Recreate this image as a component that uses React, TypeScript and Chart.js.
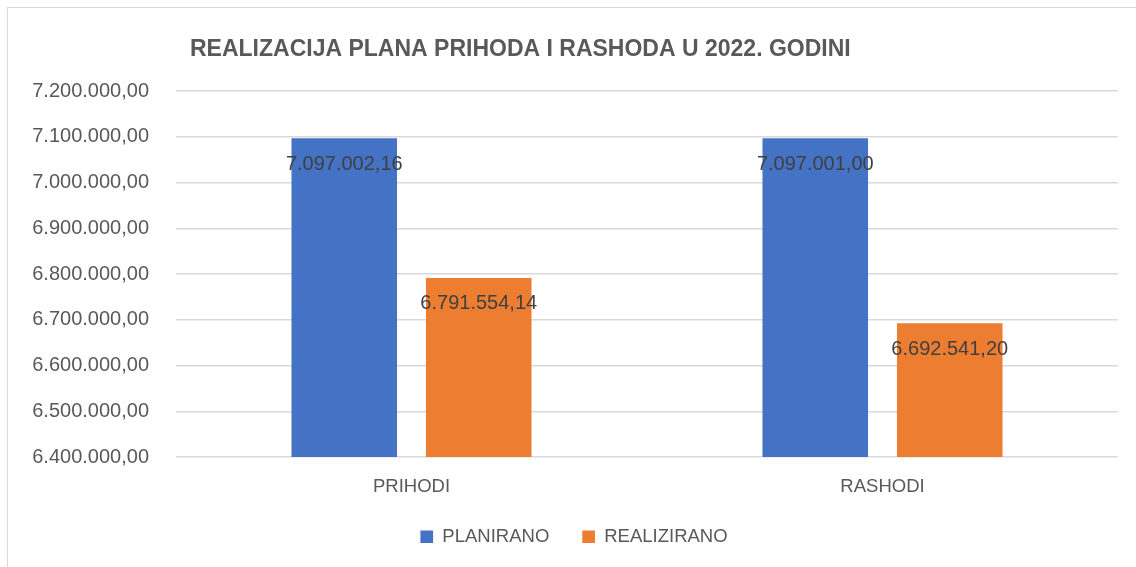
import React, { useEffect, useRef } from "react";
import { Chart, registerables } from "chart.js";

Chart.register(...registerables);

const TITLE = "REALIZACIJA PLANA PRIHODA I RASHODA U 2022. GODINI";
const categories = ["PRIHODI", "RASHODI"];
const planirano = [7097002.16, 7097001.0];
const realizirano = [6791554.14, 6692541.2];
const seriesNames = ["PLANIRANO", "REALIZIRANO"];
const yMin = 6400000;
const yMax = 7200000;
const yStep = 100000;

const FONT = "'Liberation Sans', Arial, sans-serif";

function fmtHr(v: number): string {
  const neg = v < 0;
  const [intPart, dec] = Math.abs(v).toFixed(2).split(".");
  const withDots = intPart.replace(/\B(?=(\d{3})+(?!\d))/g, ".");
  return (neg ? "-" : "") + withDots + "," + dec;
}

const titlePlugin = {
  id: "customTitle",
  afterDraw(chart: any) {
    const { ctx, chartArea } = chart;
    ctx.save();
    ctx.font = `bold 23px ${FONT}`;
    ctx.fillStyle = "#595959";
    ctx.textAlign = "left";
    ctx.textBaseline = "alphabetic";
    ctx.fillText(TITLE, chartArea.left + 14, chartArea.top - 35);
    ctx.restore();
  },
};

const dataLabelPlugin = {
  id: "dataLabels",
  afterDatasetsDraw(chart: any) {
    const { ctx } = chart;
    ctx.save();
    ctx.font = `20px ${FONT}`;
    ctx.fillStyle = "#404040";
    ctx.textAlign = "center";
    ctx.textBaseline = "middle";
    chart.data.datasets.forEach((ds: any, di: number) => {
      const meta = chart.getDatasetMeta(di);
      meta.data.forEach((bar: any, i: number) => {
        ctx.fillText(fmtHr(ds.data[i]), bar.x, bar.y + 26);
      });
    });
    ctx.restore();
  },
};

export default function App() {
  const ref = useRef<HTMLCanvasElement | null>(null);

  useEffect(() => {
    if (!ref.current) return;
    const chart = new Chart(ref.current, {
      type: "bar",
      data: {
        labels: categories,
        datasets: [
          {
            label: seriesNames[0],
            data: planirano,
            backgroundColor: "#4472C4",
            categoryPercentage: 0.571,
            barPercentage: 0.785,
          },
          {
            label: seriesNames[1],
            data: realizirano,
            backgroundColor: "#ED7D31",
            categoryPercentage: 0.571,
            barPercentage: 0.785,
          },
        ],
      },
      options: {
        responsive: false,
        animation: false,
        layout: { padding: { left: 30, right: 18, top: 91, bottom: 11 } },
        scales: {
          x: {
            grid: { display: false, drawTicks: false },
            border: { display: false },
            ticks: {
              color: "#595959",
              font: { family: FONT, size: 18.5 },
              padding: 19,
            },
            afterFit(scale: any) {
              scale.height = 37.4;
            },
          },
          y: {
            min: yMin,
            max: yMax,
            grid: { color: "#d9d9d9", lineWidth: 1.5, drawTicks: false },
            border: { display: false },
            ticks: {
              stepSize: yStep,
              color: "#595959",
              font: { family: FONT, size: 20 },
              padding: 27,
              callback: (v: any) => fmtHr(Number(v)),
            },
            afterFit(scale: any) {
              scale.width = 146;
            },
          },
        },
        plugins: {
          legend: {
            position: "bottom",
            labels: {
              color: "#595959",
              font: { family: FONT, size: 18.5 },
              boxWidth: 12.7,
              boxHeight: 12.7,
              padding: 33,
            },
          },
          title: { display: false },
          tooltip: { enabled: false },
        },
      },
      plugins: [titlePlugin, dataLabelPlugin],
    });
    return () => chart.destroy();
  }, []);

  return (
    <div
      style={{
        position: "fixed",
        left: 0,
        top: 0,
        width: 1136,
        height: 567,
        overflow: "hidden",
        background: "#fff",
      }}
    >
      <div
        style={{
          position: "absolute",
          left: 7,
          top: 7,
          width: 1300,
          height: 800,
          border: "1.5px solid #d9d9d9",
        }}
      />
      <canvas
        ref={ref}
        width={1136}
        height={567}
        style={{ position: "absolute", left: 0, top: 0, width: 1136, height: 567 }}
      />
    </div>
  );
}
